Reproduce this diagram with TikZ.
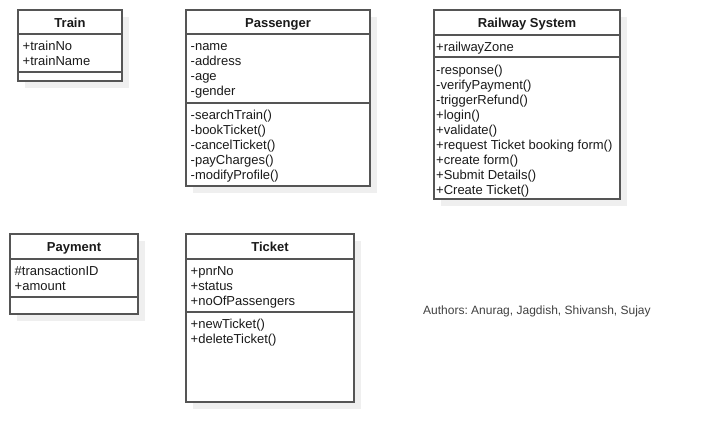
\documentclass[tikz,border=0pt]{standalone}
\usepackage{fontspec}
\setmainfont{Liberation Sans}
\frenchspacing
\definecolor{boxline}{HTML}{555555}
\definecolor{shadowc}{HTML}{EFEFEF}
\definecolor{txt}{HTML}{1A1A1A}
\definecolor{authc}{HTML}{404040}
\tikzset{
  classbox/.style={draw=boxline, line width=1.3pt, fill=white},
  divider/.style={draw=boxline, line width=1.3pt},
  classtitle/.style={font=\fontsize{13}{15}\selectfont\bfseries, text=txt, inner sep=0pt, anchor=base},
  member/.style={font=\fontsize{13}{15}\selectfont, text=txt, inner sep=0pt, anchor=base west},
  authors/.style={font=\fontsize{12}{14}\selectfont, text=authc, inner sep=0pt, anchor=base west},
}
\newcommand\umlbox[6]{% x1 y1 x2 y2 d1 d2
  \fill[shadowc] (#1+7,#2+7) rectangle (#3+7,#4+7);
  \draw[classbox] (#1,#2) rectangle (#3,#4);
  \draw[divider] (#1,#5) -- (#3,#5);
  \draw[divider] (#1,#6) -- (#3,#6);
}
\begin{document}
\begin{tikzpicture}[x=1pt,y=-1pt]
\useasboundingbox (0,0) rectangle (706,442);
% Train
\umlbox{18}{10}{122}{81}{34}{72}
\node[classtitle] (train) at (70,27.5) {Train};
\foreach [count=\i] \t in {+trainNo,+trainName}
  \node[member] (train-a\i) at (22.5,{50+15*(\i-1)}) {\t};
% Passenger
\umlbox{186}{10}{370}{186}{34}{103}
\node[classtitle] (passenger) at (278,27.5) {Passenger};
\foreach [count=\i] \t in {-name,-address,-age,-gender}
  \node[member] (pass-a\i) at (190.5,{50+15*(\i-1)}) {\t};
\foreach [count=\i] \t in {-searchTrain(),-bookTicket(),-cancelTicket(),-payCharges(),-modifyProfile()}
  \node[member] (pass-m\i) at (190.5,{119+15*(\i-1)}) {\t};
% Railway System
\umlbox{434}{10}{620}{199}{35}{57}
\node[classtitle] (railway) at (527,27.5) {Railway System};
\node[member] (rail-a1) at (436,51) {+railwayZone};
\foreach [count=\i] \t in {-response(),-verifyPayment(),-triggerRefund(),+login(),+validate(),+request Ticket booking form(),+create form(),+Submit Details(),+Create Ticket()}
  \node[member] (rail-m\i) at (436,{74+15*(\i-1)}) {\t};
% Payment
\umlbox{10}{234}{138}{314}{259}{297}
\node[classtitle] (payment) at (74,251.5) {Payment};
\node[member] (pay-a1) at (14.5,275) {\#transactionID};
\node[member] (pay-a2) at (14.5,290) {+amount};
% Ticket
\umlbox{186}{234}{354}{402}{259}{312}
\node[classtitle] (ticket) at (270,251.5) {Ticket};
\foreach [count=\i] \t in {+pnrNo,+status,+noOfPassengers}
  \node[member] (ticket-a\i) at (190.5,{275+15*(\i-1)}) {\t};
\foreach [count=\i] \t in {+newTicket(),+deleteTicket()}
  \node[member] (ticket-m\i) at (190.5,{328+15*(\i-1)}) {\t};
% Authors
\node[authors] (authors) at (423,314.5) {Authors: Anurag, Jagdish, Shivansh, Sujay};
\end{tikzpicture}
\end{document}
